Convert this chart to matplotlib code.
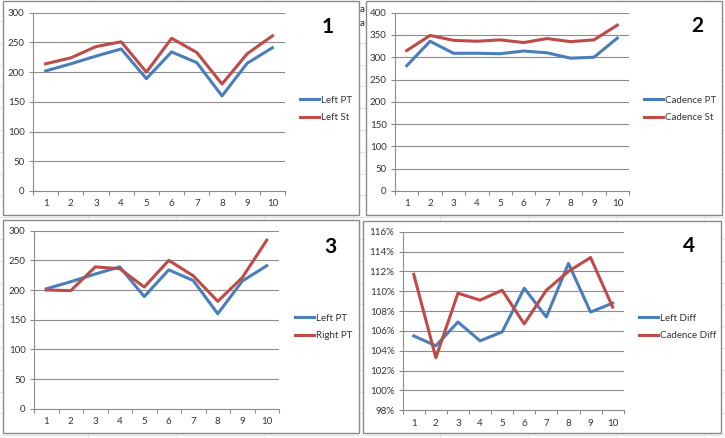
import numpy as np
import matplotlib
matplotlib.use("Agg")
import matplotlib.pyplot as plt
from matplotlib.patches import Rectangle
from matplotlib.ticker import FuncFormatter, MultipleLocator

plt.rcParams['font.family'] = ['Lato', 'DejaVu Sans']

# podaci (ocitano sa slike)
runs = [1, 2, 3, 4, 5, 6, 7, 8, 9, 10]
left_pt = [202, 214, 227, 239, 189, 234, 216, 160, 215, 241]
left_st = [214, 224, 243, 251, 200, 257, 233, 180, 231, 261]
cadence_pt = [281, 336, 309, 309, 308, 314, 310, 298, 300, 343]
cadence_st = [315, 349, 338, 336, 339, 333, 342, 335, 339, 372]
right_pt = [200, 199, 239, 236, 205, 250, 224, 181, 221, 284]
left_diff = [105.5, 104.5, 106.9, 105.0, 105.9, 110.3, 107.4, 112.8, 107.9, 108.8]
cadence_diff = [111.7, 103.3, 109.8, 109.1, 110.1, 106.7, 110.1, 112.0, 113.4, 108.4]

W, H = 725, 438
BLUE = '#4a7ebb'
RED = '#be4b48'
GRID = '#8c8c8c'
TXT = '#333333'

fig = plt.figure(figsize=(W / 100, H / 100), dpi=100)

# pozadina - excel celije
bg = fig.add_axes([0, 0, 1, 1])
bg.set_xlim(0, W)
bg.set_ylim(H, 0)
bg.axis('off')
for cx in [88, 177, 265, 353, 440, 529, 617, 705]:
    bg.axvline(cx, color='#e4e4e4', lw=0.8, zorder=0)
for ry in np.arange(21, H, 21.8):
    bg.axhline(ry, color='#e4e4e4', lw=0.8, zorder=0)
# tekst iz celija koji viri izmedu grafova
bg.text(362.5, 9, 'a', fontsize=7, color='#222222', ha='center', va='center', zorder=1)
bg.text(362.5, 23, 'a', fontsize=7, color='#222222', ha='center', va='center', zorder=1)

# okviri grafova (x0, y0, x1, y1) u pikselima
frames = [(3, 1, 359, 215), (366, 1, 722, 215), (3, 220, 359, 433), (363, 221, 721, 433)]
for x0, y0, x1, y1 in frames:
    bg.add_patch(Rectangle((x0, y0), x1 - x0, y1 - y0, facecolor='white',
                           edgecolor='#8a8a8a', lw=1.0, zorder=2))


def make_ax(x0, y_top, x1, y_bot):
    return fig.add_axes([x0 / W, 1 - y_bot / H, (x1 - x0) / W, (y_bot - y_top) / H])


def style_ax(ax, ymin, ymax, step, pct=False):
    ax.set_facecolor('none')
    ax.set_xlim(0.5, 10.5)
    ax.set_ylim(ymin, ymax)
    ax.yaxis.set_major_locator(MultipleLocator(step))
    if pct:
        ax.yaxis.set_major_formatter(FuncFormatter(lambda v, p: "{:.0f}%".format(v)))
    ax.grid(axis='y', color=GRID, lw=0.8)
    ax.set_axisbelow(True)
    for s in ['top', 'right']:
        ax.spines[s].set_visible(False)
    for s in ['left', 'bottom']:
        ax.spines[s].set_color(GRID)
        ax.spines[s].set_linewidth(0.8)
    # kategorije izmedu oznaka
    ax.set_xticks(np.arange(0.5, 11, 1))
    ax.set_xticklabels([])
    ax.set_xticks(runs, minor=True)
    ax.set_xticklabels([str(r) for r in runs], minor=True)
    ax.tick_params(axis='x', which='major', direction='out', length=3, color=GRID, width=0.8)
    ax.tick_params(axis='x', which='minor', length=0, pad=6, labelsize=7, labelcolor=TXT)
    ax.tick_params(axis='y', direction='out', length=3, color=GRID, width=0.8,
                   pad=3, labelsize=7, labelcolor=TXT)


def add_legend(ax, x, y):
    ax.legend(loc='center left', bbox_to_anchor=(x / W, 1 - y / H),
              bbox_transform=fig.transFigure, frameon=False, borderaxespad=0,
              borderpad=0, handlelength=2.0, handletextpad=0.15,
              labelspacing=0.85, fontsize=7, labelcolor=TXT)


# 1
ax1 = make_ax(33, 12.7, 285, 191)
ax1.plot(runs, left_pt, color=BLUE, lw=2.2, label='Left PT')
ax1.plot(runs, left_st, color=RED, lw=2.2, label='Left St')
style_ax(ax1, 0, 300, 50)
add_legend(ax1, 300, 109)
fig.text(328 / W, 1 - 27 / H, '1', fontsize=15, fontweight='bold', ha='center', va='center')

# 2
ax2 = make_ax(395, 12.7, 629, 191)
ax2.plot(runs, cadence_pt, color=BLUE, lw=2.2, label='Cadence PT')
ax2.plot(runs, cadence_st, color=RED, lw=2.2, label='Cadence St')
style_ax(ax2, 0, 400, 50)
add_legend(ax2, 644, 109)
fig.text(697 / W, 1 - 26 / H, '2', fontsize=15, fontweight='bold', ha='center', va='center')

# 3
ax3 = make_ax(34, 230.7, 279, 408.7)
ax3.plot(runs, left_pt, color=BLUE, lw=2.2, label='Left PT')
ax3.plot(runs, right_pt, color=RED, lw=2.2, label='Right PT')
style_ax(ax3, 0, 300, 50)
add_legend(ax3, 295, 327)
fig.text(330 / W, 1 - 247 / H, '3', fontsize=15, fontweight='bold', ha='center', va='center')

# 4
ax4 = make_ax(402.7, 231.7, 623.7, 410.3)
ax4.plot(runs, left_diff, color=BLUE, lw=2.2, label='Left Diff')
ax4.plot(runs, cadence_diff, color=RED, lw=2.2, label='Cadence Diff')
style_ax(ax4, 98, 116, 2, pct=True)
add_legend(ax4, 638.7, 327)
fig.text(688.7 / W, 1 - 245.7 / H, '4', fontsize=15, fontweight='bold', ha='center', va='center')

fig.savefig('out.png', dpi=100)
